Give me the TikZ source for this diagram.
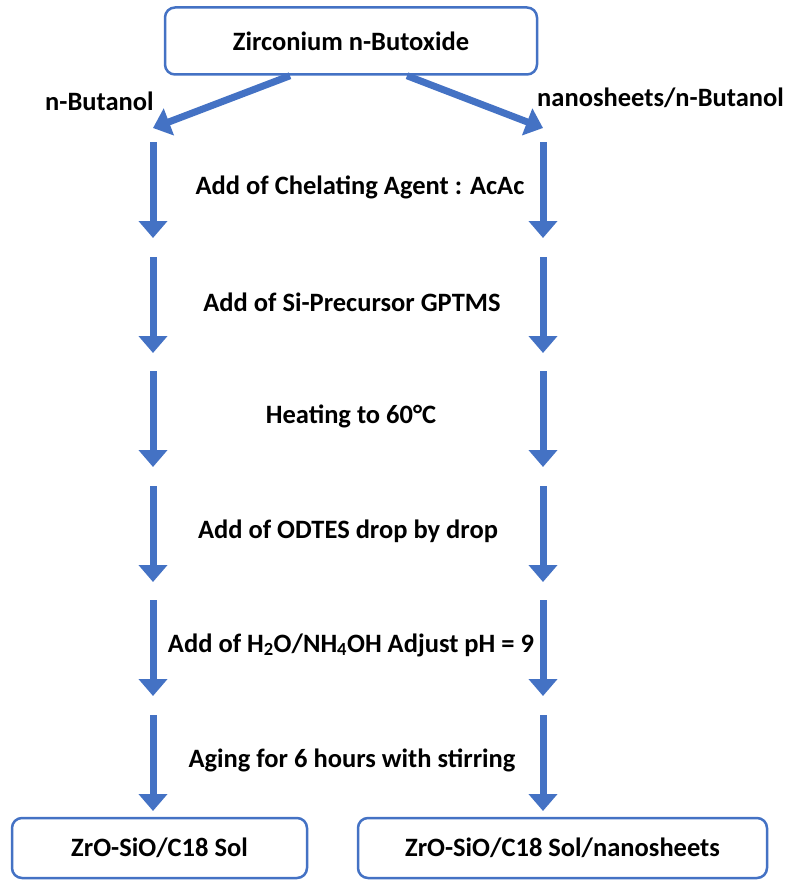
\documentclass[tikz,border=0pt]{standalone}
\usepackage{fontspec}
\setmainfont{Carlito}
\usetikzlibrary{arrows.meta}
\definecolor{flowblue}{HTML}{4472C4}
\tikzset{
  txt/.style={font=\bfseries\fontsize{26.5}{30}\selectfont, inner sep=0pt},
  box/.style={txt, draw=flowblue, line width=2.5pt, rounded corners=10pt},
  flow/.style={flowblue, line width=7pt, -{Triangle[width=28pt,length=17pt]}}
}
\begin{document}
\begin{tikzpicture}[x=1pt,y=-1pt]
\useasboundingbox (0,0) rectangle (787,880);
% start
\node[box, minimum width=372pt, minimum height=67pt] (zr) at (351,41) {Zirconium n-Butoxide};
\node[txt, anchor=west] (butl) at (45,101) {n-Butanol};
\node[txt, anchor=west] (butr) at (537,98) {nanosheets/n-Butanol};
\coordinate (l0) at (153,128);
\coordinate (r0) at (543,128);
\draw[flow] ([xshift=-61pt]zr.south) -- (l0);
\draw[flow] ([xshift=56pt]zr.south) -- (r0);
% steps
\foreach \i/\y/\cx/\step in {1/142/360/{Add of Chelating Agent : AcAc},
    2/257/352/{Add of Si-Precursor GPTMS},
    3/371/351/{Heating to 60°C},
    4/486/348/{Add of ODTES drop by drop},
    5/600/351/{Add of H\textsubscript{2}O/NH\textsubscript{4}OH Adjust pH = 9},
    6/715/352/{Aging for 6 hours with stirring}} {
  \coordinate (lt\i) at (153,\y);
  \coordinate (lb\i) at (153,\y+96);
  \coordinate (rt\i) at (543,\y);
  \coordinate (rb\i) at (543,\y+96);
  \draw[flow] (lt\i) -- (lb\i);
  \draw[flow] (rt\i) -- (rb\i);
  \node[txt] (step\i) at (\cx,\y+45) {\step};
}
% products
\node[box, minimum width=295pt, minimum height=60pt] (soll) at (159.5,848) {ZrO-SiO/C18 Sol};
\node[box, minimum width=409pt, minimum height=60pt] (solr) at (562.5,848) {ZrO-SiO/C18 Sol/nanosheets};
\end{tikzpicture}
\end{document}
